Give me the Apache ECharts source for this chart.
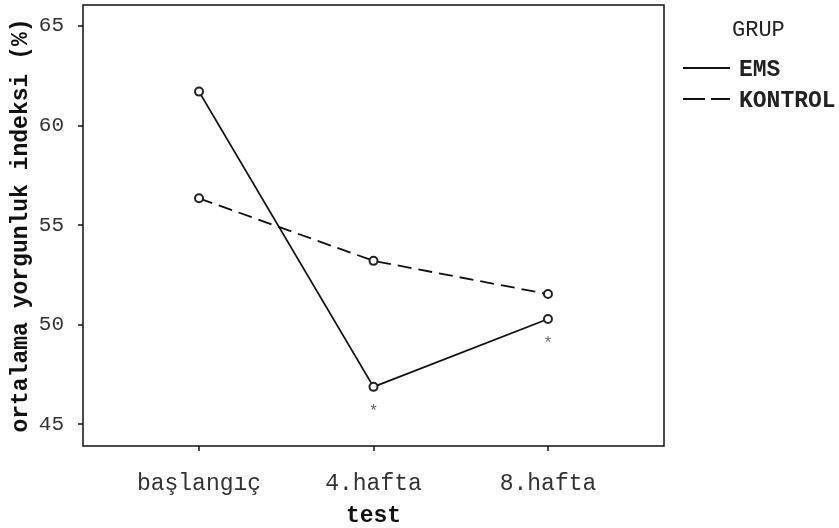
<!DOCTYPE html>
<html><head><meta charset="utf-8">
<script src="https://cdn.jsdelivr.net/npm/echarts@6/dist/echarts.min.js"></script>
<style>html,body{margin:0;padding:0;background:#fff}#c{width:839px;height:528px}</style>
</head><body><div id="c"></div>
<script>
const categories = ['başlangıç', '4.hafta', '8.hafta'];
const emsValues = [61.7, 46.87, 50.28];
const kontrolValues = [56.34, 53.2, 51.53];
const emsStars = ['', '*', '*'];
const yTicks = [45, 50, 55, 60, 65];
const seriesNames = ['EMS', 'KONTROL'];
const legendTitle = 'GRUP';

const FONT = '"Liberation Mono", "DejaVu Sans Mono", monospace';
const xIdx = categories.map((c, i) => i);

const chart = echarts.init(document.getElementById('c'));
chart.setOption({
  animation: false,
  backgroundColor: '#fff',
  grid: {left: 83, top: 5, right: 175, bottom: 82, containLabel: false, outerBoundsMode: 'none',
    show: true, borderColor: '#111', borderWidth: 1.5, backgroundColor: 'transparent'},
  xAxis: {
    type: 'value', min: -0.665, max: 2.665,
    name: 'test', nameLocation: 'middle', nameGap: 59, nameMoveOverlap: false,
    nameTextStyle: {fontFamily: FONT, fontSize: 23, fontWeight: 'bold', color: '#111'},
    axisLine: {show: false, onZero: false},
    axisTick: {show: true, customValues: xIdx, length: 5, lineStyle: {color: '#111', width: 1.5}},
    axisLabel: {customValues: xIdx, margin: 26, fontFamily: FONT, fontSize: 23, color: '#333',
      formatter: v => categories[Math.round(v)] || ''},
    splitLine: {show: false}
  },
  yAxis: {
    type: 'value', min: 43.9, max: 66.05,
    name: 'ortalama yorgunluk indeksi (%)', nameLocation: 'middle', nameGap: 50, nameMoveOverlap: false,
    nameTextStyle: {fontFamily: FONT, fontSize: 23, fontWeight: 'bold', color: '#111'},
    axisLine: {show: false, onZero: false},
    axisTick: {show: true, customValues: yTicks, length: 5, lineStyle: {color: '#111', width: 1.5}},
    axisLabel: {customValues: yTicks, margin: 19, fontFamily: FONT, fontSize: 21, color: '#333'},
    splitLine: {show: false}
  },
  series: [
    {
      name: seriesNames[0], type: 'line', z: 3,
      data: emsValues.map((v, i) => ({
        value: [i, v],
        label: {show: emsStars[i] !== '', formatter: emsStars[i], position: 'bottom', distance: 12,
          fontFamily: FONT, fontSize: 16, color: '#666'}
      })),
      symbol: 'emptyCircle', symbolSize: 8,
      itemStyle: {color: '#222', borderColor: '#222', borderWidth: 1.5},
      lineStyle: {color: '#111', width: 1.8}
    },
    {
      name: seriesNames[1], type: 'line', z: 2,
      data: kontrolValues.map((v, i) => [i, v]),
      symbol: 'emptyCircle', symbolSize: 8,
      itemStyle: {color: '#222', borderColor: '#222', borderWidth: 1.5},
      lineStyle: {color: '#111', width: 1.8, type: [14, 7]}
    }
  ],
  graphic: [
    {type: 'text', left: 732, top: 19, style: {text: legendTitle, font: '22px ' + FONT, fill: '#222'}},
    {type: 'line', shape: {x1: 683, y1: 68, x2: 730, y2: 68}, style: {stroke: '#111', lineWidth: 1.8}},
    {type: 'text', left: 739, top: 59, style: {text: seriesNames[0], font: 'bold 23px ' + FONT, fill: '#222'}},
    {type: 'line', shape: {x1: 683, y1: 99, x2: 730, y2: 99}, style: {stroke: '#111', lineWidth: 1.8, lineDash: [22, 6]}},
    {type: 'text', left: 739, top: 90, style: {text: seriesNames[1], font: 'bold 23px ' + FONT, fill: '#222'}}
  ]
});
</script></body></html>
